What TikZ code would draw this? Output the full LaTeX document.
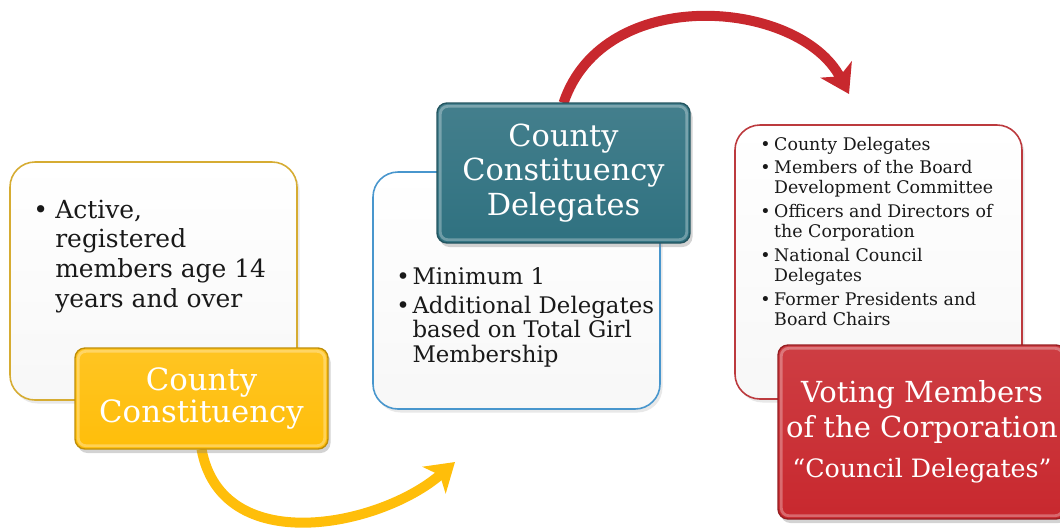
\documentclass[tikz,border=0pt]{standalone}
\usepackage{fontspec}
\setmainfont{DejaVu Serif}
\usetikzlibrary{positioning,arrows.meta,shadows}
\definecolor{gsGold}{RGB}{255,190,10}
\definecolor{gsTeal}{RGB}{47,113,128}
\definecolor{gsRed}{RGB}{200,40,46}
\definecolor{gsGoldLn}{RGB}{214,172,50}
\definecolor{gsBlueLn}{RGB}{72,150,205}
\definecolor{gsRedLn}{RGB}{188,58,62}
\definecolor{gsInk}{RGB}{25,25,25}
\def\pxu{0.02cm}

\begin{document}
\begin{tikzpicture}[x=0.02cm, y=-0.02cm,
  softbox/.style={draw=#1, line width=0.9pt, rounded corners=0.5cm,
    top color=white, bottom color=black!3,
    drop shadow={opacity=0.18, shadow xshift=0.05cm, shadow yshift=-0.07cm}},
  tag/.style={draw=#1!75!black, line width=0.8pt, rounded corners=0.2cm,
    top color=#1!90!white, bottom color=#1, text=white, align=center, inner sep=0pt,
    drop shadow={opacity=0.35, shadow xshift=0.05cm, shadow yshift=-0.08cm}},
  bevel/.style={draw=white, opacity=0.3, line width=1.6pt, rounded corners=0.15cm},
  bodytext/.style={text=gsInk, align=left, inner sep=0pt, anchor=base west},
  bendarrow/.style={draw=#1, line width=0.2cm,
    -{Stealth[length=0.55cm, width=0.7cm, inset=0.15cm]}}]
\useasboundingbox (0,0) rectangle (1060,529);
% 三个说明框
\node[softbox=gsGoldLn, minimum width=287*\pxu, minimum height=238*\pxu] (cc) at (153.5,281) {};
\node[softbox=gsBlueLn, minimum width=287*\pxu, minimum height=237*\pxu] (ccd) at (516.5,290.5) {};
\node[softbox=gsRedLn, minimum width=287*\pxu, minimum height=274*\pxu] (vm) at (878.5,262) {};
% 框内条目（第一行基线对齐）
\node[bodytext, font=\fontsize{14.2}{17}\selectfont] (ccTxt) at (33,218)
  {\begin{tabular}[t]{@{}p{12.5pt}@{}l@{}}
   \textbullet & Active,\\ & registered\\ & members age 14\\ & years and over
   \end{tabular}};
\node[bodytext, font=\fontsize{13}{13.6}\selectfont] (ccdTxt) at (396,284)
  {\begin{tabular}[t]{@{}p{9.2pt}@{}l@{}}
   \textbullet & Minimum 1\\[2.8pt]
   \textbullet & Additional Delegates\\ & based on Total Girl\\ & Membership
   \end{tabular}};
\node[bodytext, font=\fontsize{9.9}{11.3}\selectfont] (vmTxt) at (760,150)
  {\begin{tabular}[t]{@{}p{7.9pt}@{}l@{}}
   \textbullet & County Delegates\\[2.3pt]
   \textbullet & Members of the Board\\ & Development Committee\\[2.3pt]
   \textbullet & Officers and Directors of\\ & the Corporation\\[2.3pt]
   \textbullet & National Council\\ & Delegates\\[2.3pt]
   \textbullet & Former Presidents and\\ & Board Chairs
   \end{tabular}};
% 弯箭头
\coordinate (ccEnd) at (455,462);
\coordinate (vmEnd) at (849,94);
\draw[bendarrow=gsGold] (201.5,449) .. controls +(20,110) and +(-75,65) .. (ccEnd);
\draw[bendarrow=gsRed] (563.5,103) .. controls +(40,-120) and +(-50,-95) .. (vmEnd);
% 标题块
\node[tag=gsGold, minimum width=253*\pxu, minimum height=101*\pxu,
  font=\fontsize{17.5}{18.7}\selectfont] (ccLab) at (201.5,398.5) {County\\Constituency};
\node[tag=gsTeal, minimum width=253*\pxu, minimum height=140*\pxu,
  font=\fontsize{17.3}{19.8}\selectfont] (ccdLab) at (563.5,173) {County\\Constituency\\Delegates};
\node[tag=gsRed, minimum width=288*\pxu, minimum height=174*\pxu,
  font=\fontsize{16.5}{19.8}\selectfont] (vmLab) at (922,432)
  {Voting Members\\of the Corporation\\[3pt]{\fontsize{14.4}{17}\selectfont “Council Delegates”}};
% 标题块内侧高光
\foreach \t in {ccLab,ccdLab,vmLab}
  \draw[bevel] ([shift={(4,4)}]\t.north west) rectangle ([shift={(-4,-4)}]\t.south east);
\end{tikzpicture}
\end{document}
